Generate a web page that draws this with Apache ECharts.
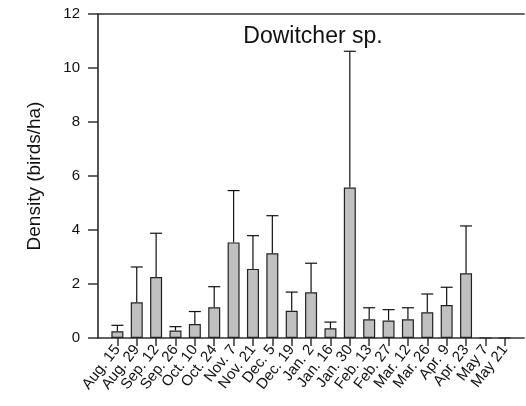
<!DOCTYPE html>
<html><head><meta charset="utf-8">
<script src="https://cdn.jsdelivr.net/npm/echarts@6/dist/echarts.min.js"></script>
<style>html,body{margin:0;padding:0;background:#fff}#c{width:526px;height:406px}</style>
</head><body><div id="c"></div>
<script>
var categories = ["Aug. 15","Aug. 29","Sep. 12","Sep. 26","Oct. 10","Oct. 24","Nov. 7","Nov. 21","Dec. 5","Dec. 19","Jan. 2","Jan. 16","Jan. 30","Feb. 13","Feb. 27","Mar. 12","Mar. 26","Apr. 9","Apr. 23","May 7","May 21"];
var density = [0.25,1.32,2.26,0.28,0.52,1.14,3.54,2.56,3.14,1.01,1.69,0.36,5.57,0.69,0.65,0.69,0.95,1.22,2.40,0,0];
var errorTop = [0.47,2.63,3.88,0.42,0.98,1.90,5.46,3.79,4.53,1.70,2.77,0.59,10.62,1.12,1.05,1.12,1.63,1.88,4.15,0,0];
var yTicks = [0,2,4,6,8,10,12];

var axisCats = [""].concat(categories).concat([""]);
var barData = [null].concat(density).concat([null]);
var errData = [];
for (var i = 0; i < categories.length; i++) {
  if (errorTop[i] > density[i]) errData.push([i + 1, density[i], errorTop[i]]);
}
var font = "'Liberation Sans', Arial, sans-serif";
var chart = echarts.init(document.getElementById('c'), null, {renderer: 'canvas'});
chart.setOption({
  animation: false,
  title: {
    text: 'Dowitcher sp.', left: 308, top: 20, textAlign: 'center',
    textStyle: {fontFamily: font, fontSize: 23, fontWeight: 'normal', color: '#111'}
  },
  grid: {left: 98, right: 0, top: 14, bottom: 68, containLabel: false},
  xAxis: [{
    type: 'category', data: axisCats, boundaryGap: false,
    axisLine: {show: true, lineStyle: {color: '#333', width: 1.5}},
    axisTick: {show: true, length: 8, lineStyle: {color: '#333', width: 1.5},
      interval: function (idx, val) { return val !== ""; }},
    axisLabel: {interval: 0, rotate: 52, fontFamily: font, fontSize: 15, color: '#111', margin: 9},
    splitLine: {show: false}
  }, {
    type: 'category', position: 'top', data: axisCats, boundaryGap: false,
    axisLine: {show: true, lineStyle: {color: '#333', width: 1.5}},
    axisTick: {show: false}, axisLabel: {show: false}
  }],
  yAxis: {
    type: 'value', min: 0, max: 12, interval: 2,
    name: 'Density (birds/ha)', nameLocation: 'middle', nameGap: 54, nameRotate: 90,
    nameTextStyle: {fontFamily: font, fontSize: 19, color: '#111'},
    axisLine: {show: true, lineStyle: {color: '#555', width: 2}},
    axisTick: {show: true, length: 10, lineStyle: {color: '#333', width: 1.5}},
    axisLabel: {fontFamily: font, fontSize: 15, color: '#111', margin: 18,
      formatter: function (v) { return yTicks.indexOf(v) >= 0 ? String(v) : ''; }},
    splitLine: {show: false}
  },
  series: [{
    type: 'bar', data: barData, barWidth: 12,
    itemStyle: {color: '#c0c0c0', borderColor: '#222', borderWidth: 1.2}
  }, {
    type: 'custom', data: errData, z: 3,
    renderItem: function (params, api) {
      var x = api.value(0);
      var lo = api.coord([x, api.value(1)]);
      var hi = api.coord([x, api.value(2)]);
      var hw = 6;
      return {type: 'group', children: [
        {type: 'line', shape: {x1: lo[0], y1: lo[1], x2: hi[0], y2: hi[1]}, style: {stroke: '#111', lineWidth: 1.2}},
        {type: 'line', shape: {x1: hi[0] - hw, y1: hi[1], x2: hi[0] + hw, y2: hi[1]}, style: {stroke: '#111', lineWidth: 1.2}}
      ]};
    }
  }]
});
</script></body></html>
